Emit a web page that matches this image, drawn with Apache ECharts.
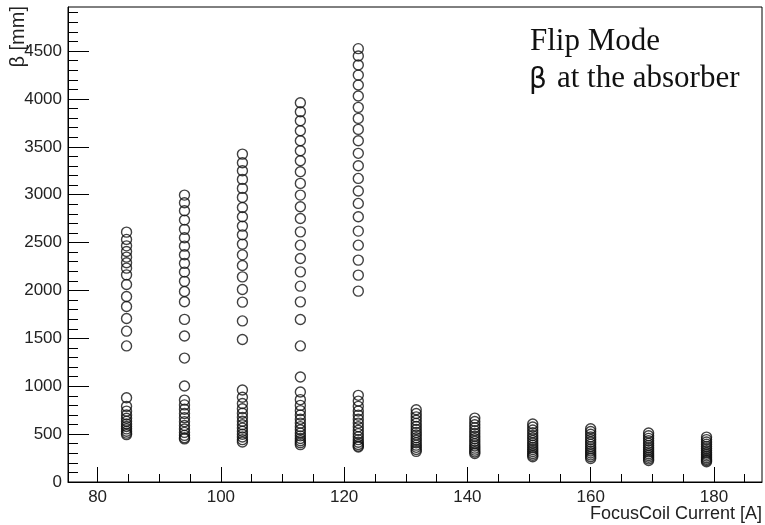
<!DOCTYPE html>
<html>
<head>
<meta charset="utf-8">
<script src="https://cdn.jsdelivr.net/npm/echarts@6.0.0/dist/echarts.min.js"></script>
<style>
  html, body { margin: 0; padding: 0; background: #fff; }
  #chart { width: 765px; height: 525px; }
</style>
</head>
<body>
<div id="chart"></div>
<script>
// Focus coil currents [A] of each scan
const currents = [84.7, 94.1, 103.5, 112.9, 122.3, 131.7, 141.2, 150.6, 160.0, 169.4, 178.8];

// beta at the absorber [mm] for each current
const beta_084 = [2609, 2533, 2466, 2407, 2348, 2289, 2233, 2163, 2063, 1937, 1833, 1707, 1575, 1421,
                  880, 790, 740, 700, 665, 635, 605, 580, 555, 530, 510, 495];
const beta_094 = [2996, 2916, 2832, 2735, 2638, 2550, 2463, 2373, 2283, 2192, 2095, 1990, 1882, 1698, 1524, 1294, 1002,
                  855, 805, 760, 715, 672, 630, 590, 553, 518, 487, 462, 450];
const beta_103 = [3424, 3333, 3250, 3160, 3066, 2972, 2867, 2769, 2672, 2581, 2484, 2372, 2261, 2142, 2010, 1878, 1682, 1488,
                  960, 885, 820, 765, 718, 675, 635, 598, 563, 530, 498, 470, 442, 418];
const beta_113 = [3960, 3866, 3772, 3668, 3563, 3459, 3354, 3239, 3118, 2996, 2874, 2752, 2612, 2473, 2334, 2194, 2045, 1881, 1697, 1421, 1097,
                  940, 860, 800, 745, 700, 655, 615, 578, 545, 512, 482, 455, 430, 410, 390];
const beta_122 = [4525, 4448, 4354, 4249, 4145, 4030, 3912, 3797, 3682, 3563, 3432, 3302, 3170, 3038, 2909, 2769, 2620, 2473, 2317, 2160, 1993,
                  905, 845, 790, 742, 698, 655, 615, 577, 540, 505, 472, 442, 415, 392, 375, 365];
const beta_132 = [755, 715, 680, 645, 612, 580, 548, 518, 490, 462, 436, 410, 385, 362, 340, 320];
const beta_141 = [667, 632, 598, 566, 536, 506, 478, 451, 425, 400, 376, 354, 333, 314, 298];
const beta_151 = [605, 574, 543, 514, 486, 459, 433, 408, 384, 361, 339, 318, 298, 280, 263];
const beta_160 = [556, 527, 498, 470, 444, 418, 393, 369, 346, 324, 303, 283, 264, 246];
const beta_169 = [511, 483, 456, 430, 405, 381, 358, 336, 315, 295, 276, 258, 241, 225];
const beta_179 = [469, 443, 418, 394, 371, 349, 328, 308, 289, 271, 254, 238, 224, 211];

const betaColumns = [beta_084, beta_094, beta_103, beta_113, beta_122, beta_132,
                     beta_141, beta_151, beta_160, beta_169, beta_179];

// axis ranges and tick labels
const X_MIN = 75.2, X_MAX = 187.8;
const Y_MIN = 0, Y_MAX = 4960;
const xLabels = [80, 100, 120, 140, 160, 180];
const yLabels = [0, 500, 1000, 1500, 2000, 2500, 3000, 3500, 4000, 4500];

const xMinor = [];
for (let v = 80; v <= X_MAX; v += 5) xMinor.push(v);
const yMinor = [];
for (let v = 0; v <= Y_MAX; v += 100) yMinor.push(v);

const points = [];
currents.forEach((I, i) => betaColumns[i].forEach(b => points.push([I, b])));

const AXIS_FONT = '"Liberation Sans", Arial, Helvetica, sans-serif';
const SERIF = '"Liberation Serif", "Times New Roman", serif';
const black = '#000';
const plain = v => String(v);

const chart = echarts.init(document.getElementById('chart'), null, { renderer: 'canvas' });
chart.setOption({
  animation: false,
  backgroundColor: '#fff',
  grid: {
    left: 68, right: 3, top: 7, bottom: 43,
    show: true, borderColor: black, borderWidth: 1, backgroundColor: 'transparent'
  },
  xAxis: [
    {
      type: 'value', min: X_MIN, max: X_MAX, position: 'bottom',
      axisLine: { show: true, onZero: false, lineStyle: { color: black, width: 1 } },
      axisTick: { show: true, inside: true, length: 15, customValues: xLabels, lineStyle: { color: black, width: 1 } },
      axisLabel: { show: true, customValues: xLabels, formatter: plain, margin: 7, fontSize: 17, color: '#222', fontFamily: AXIS_FONT },
      splitLine: { show: false }
    },
    {
      type: 'value', min: X_MIN, max: X_MAX, position: 'bottom',
      axisLine: { show: false },
      axisTick: { show: true, inside: true, length: 8, customValues: xMinor, lineStyle: { color: black, width: 1 } },
      axisLabel: { show: false },
      splitLine: { show: false }
    }
  ],
  yAxis: [
    {
      type: 'value', min: Y_MIN, max: Y_MAX, position: 'left',
      axisLine: { show: true, onZero: false, lineStyle: { color: black, width: 1 } },
      axisTick: { show: true, inside: true, length: 21, customValues: yLabels, lineStyle: { color: black, width: 1 } },
      axisLabel: { show: true, customValues: yLabels, formatter: plain, margin: 6, fontSize: 17, color: '#222', fontFamily: AXIS_FONT },
      splitLine: { show: false }
    },
    {
      type: 'value', min: Y_MIN, max: Y_MAX, position: 'left',
      axisLine: { show: false },
      axisTick: { show: true, inside: true, length: 10, customValues: yMinor, lineStyle: { color: black, width: 1 } },
      axisLabel: { show: false },
      splitLine: { show: false }
    }
  ],
  series: [{
    type: 'scatter',
    xAxisIndex: 0, yAxisIndex: 0,
    data: points,
    symbol: 'circle',
    symbolSize: 10,
    itemStyle: { color: 'rgba(0,0,0,0)', borderColor: '#111', borderWidth: 1.4 },
    emphasis: { disabled: true }
  }],
  graphic: [
    {
      type: 'text', x: 18.5, y: 6, rotation: Math.PI / 2,
      style: { text: 'β [mm]', font: '20px ' + AXIS_FONT, fill: '#222', textAlign: 'right', textVerticalAlign: 'middle' }
    },
    {
      type: 'text', x: 762, y: 514,
      style: { text: 'FocusCoil Current [A]', font: '18px ' + AXIS_FONT, fill: '#222', textAlign: 'right', textVerticalAlign: 'middle' }
    },
    {
      type: 'text', x: 530, y: 42,
      style: { text: 'Flip Mode', font: '31px ' + SERIF, fill: '#111', textAlign: 'left', textVerticalAlign: 'middle' }
    },
    {
      type: 'text', x: 529, y: 81,
      style: { text: 'β', font: '28px "DejaVu Sans", sans-serif', fill: '#111', textAlign: 'left', textVerticalAlign: 'middle' }
    },
    {
      type: 'text', x: 557, y: 79,
      style: { text: 'at the absorber', font: '31px ' + SERIF, fill: '#111', textAlign: 'left', textVerticalAlign: 'middle' }
    }
  ]
});
</script>
</body>
</html>
